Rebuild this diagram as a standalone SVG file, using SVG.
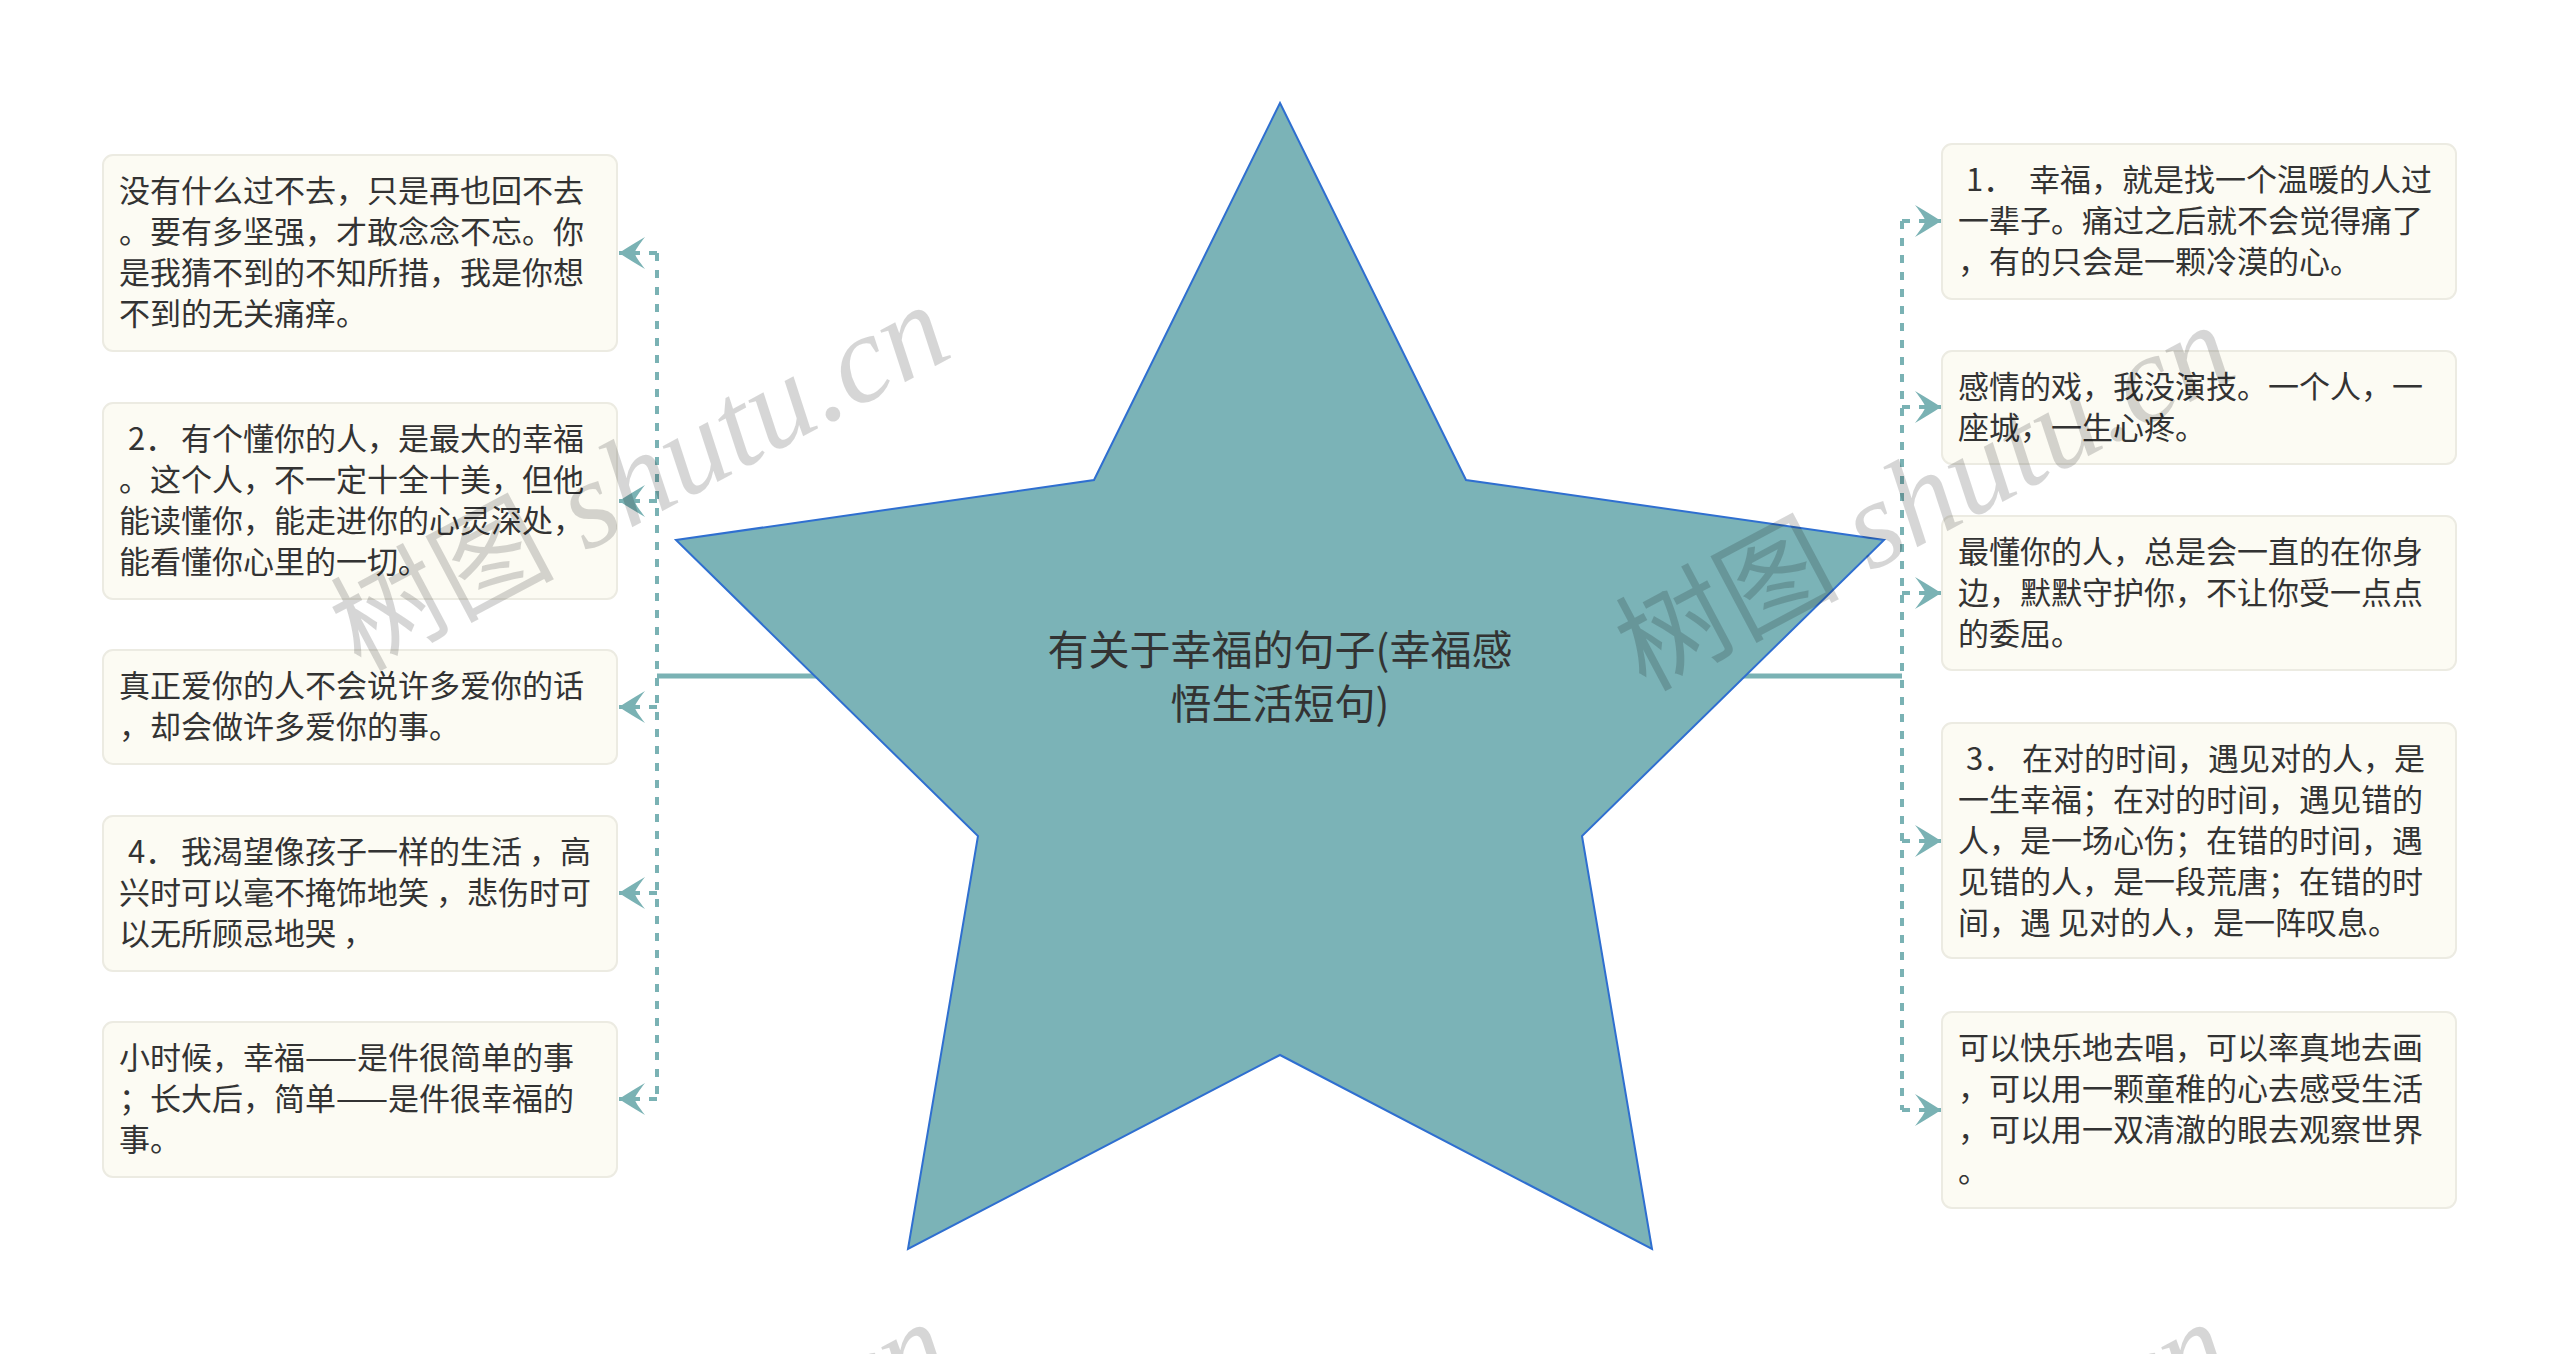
<svg xmlns="http://www.w3.org/2000/svg" width="2560" height="1354" viewBox="0 0 2560 1354">
<defs>
<style>
.box{fill:#fcfbf3;stroke:#ecebe2;stroke-width:2}
.t{font-family:"Noto Sans CJK SC","Noto Sans",sans-serif;font-size:31px;fill:#333333}
.title{font-family:"Noto Sans CJK SC","Noto Sans",sans-serif;font-size:41px;fill:#333333;text-anchor:middle}
.main{stroke:#7ab2b4;stroke-width:5;fill:none}
.dash{stroke:#7ab2b4;stroke-width:4;stroke-dasharray:8 9;fill:none}
.br{stroke:#7ab2b4;stroke-width:4;stroke-dasharray:8 9;fill:none;marker-end:url(#arr)}
.wm{font-family:"Liberation Serif",serif;font-style:italic;font-size:125px;fill:#000;fill-opacity:0.16}
.wmc{font-family:"Noto Sans CJK SC",sans-serif;font-style:normal;font-size:112px}
</style>
<marker id="arr" viewBox="-28 -17 30 34" markerWidth="30" markerHeight="34" refX="0" refY="0" orient="auto" markerUnits="userSpaceOnUse">
<path d="M0,0 C-8,-5 -17,-11 -26,-16 C-20,-8 -16,-3 -16,0 C-16,3 -20,8 -26,16 C-17,11 -8,5 0,0 Z" fill="#7ab2b4"/>
</marker>
</defs>
<rect width="2560" height="1354" fill="#ffffff"/>
<g id="connectors">
<line class="main" x1="657" y1="676" x2="1280" y2="676"/>
<line class="main" x1="1902" y1="676" x2="1280" y2="676"/>
<line class="dash" x1="657" y1="253" x2="657" y2="1099"/>
<line class="dash" x1="1902" y1="221" x2="1902" y2="1110"/>
<line class="br" x1="657" y1="253" x2="619" y2="253"/>
<line class="br" x1="657" y1="501" x2="619" y2="501"/>
<line class="br" x1="657" y1="707" x2="619" y2="707"/>
<line class="br" x1="657" y1="893" x2="619" y2="893"/>
<line class="br" x1="657" y1="1099" x2="619" y2="1099"/>
<line class="br" x1="1902" y1="221" x2="1941" y2="221"/>
<line class="br" x1="1902" y1="407" x2="1941" y2="407"/>
<line class="br" x1="1902" y1="593" x2="1941" y2="593"/>
<line class="br" x1="1902" y1="841" x2="1941" y2="841"/>
<line class="br" x1="1902" y1="1110" x2="1941" y2="1110"/>
</g>
<g id="center">
<polygon points="1280,103 1466,480 1884,540 1582,836 1652,1249 1280,1055 908,1249 978,836 676,540 1094,480" fill="#7bb3b7" stroke="#2f6fd0" stroke-width="2" stroke-linejoin="miter"/>
<text class="title"><tspan x="1280" y="665">有关于幸福的句子(幸福感</tspan><tspan x="1280" y="719">悟生活短句)</tspan></text>
</g>
<g id="left1">
<rect class="box" x="103" y="155" width="514" height="196" rx="10"/>
<text class="t" x="119" y="202">没有什么过不去，只是再也回不去</text>
<text class="t" x="119" y="243">。要有多坚强，才敢念念不忘。你</text>
<text class="t" x="119" y="284">是我猜不到的不知所措，我是你想</text>
<text class="t" x="119" y="325">不到的无关痛痒。</text>
</g>
<g id="left2">
<rect class="box" x="103" y="403" width="514" height="196" rx="10"/>
<text class="t" y="450"><tspan x="128">2．</tspan><tspan x="181">有个懂你的人，是最大的幸福</tspan></text>
<text class="t" x="119" y="491">。这个人，不一定十全十美，但他</text>
<text class="t" x="119" y="532">能读懂你，能走进你的心灵深处，</text>
<text class="t" x="119" y="573">能看懂你心里的一切。</text>
</g>
<g id="left3">
<rect class="box" x="103" y="650" width="514" height="114" rx="10"/>
<text class="t" x="119" y="697">真正爱你的人不会说许多爱你的话</text>
<text class="t" x="119" y="738">，却会做许多爱你的事。</text>
</g>
<g id="left4">
<rect class="box" x="103" y="816" width="514" height="155" rx="10"/>
<text class="t" y="863"><tspan x="128">4．</tspan><tspan x="181">我渴望像孩子一样的生活 ，高</tspan></text>
<text class="t" x="119" y="904">兴时可以毫不掩饰地笑 ，悲伤时可</text>
<text class="t" x="119" y="945">以无所顾忌地哭 ，</text>
</g>
<g id="left5">
<rect class="box" x="103" y="1022" width="514" height="155" rx="10"/>
<text class="t" x="119" y="1069">小时候，幸福——是件很简单的事</text>
<text class="t" x="119" y="1110">；长大后，简单——是件很幸福的</text>
<text class="t" x="119" y="1151">事。</text>
</g>
<g id="right1">
<rect class="box" x="1942" y="144" width="514" height="155" rx="10"/>
<text class="t" y="191"><tspan x="1966">1．</tspan><tspan x="2029">幸福，就是找一个温暖的人过</tspan></text>
<text class="t" x="1958" y="232">一辈子。痛过之后就不会觉得痛了</text>
<text class="t" x="1958" y="273">，有的只会是一颗冷漠的心。</text>
</g>
<g id="right2">
<rect class="box" x="1942" y="351" width="514" height="113" rx="10"/>
<text class="t" x="1958" y="398">感情的戏，我没演技。一个人，一</text>
<text class="t" x="1958" y="439">座城，一生心疼。</text>
</g>
<g id="right3">
<rect class="box" x="1942" y="516" width="514" height="154" rx="10"/>
<text class="t" x="1958" y="563">最懂你的人，总是会一直的在你身</text>
<text class="t" x="1958" y="604">边，默默守护你，不让你受一点点</text>
<text class="t" x="1958" y="645">的委屈。</text>
</g>
<g id="right4">
<rect class="box" x="1942" y="723" width="514" height="235" rx="10"/>
<text class="t" y="770"><tspan x="1966">3．</tspan><tspan x="2022">在对的时间，遇见对的人，是</tspan></text>
<text class="t" x="1958" y="811">一生幸福；在对的时间，遇见错的</text>
<text class="t" x="1958" y="852">人，是一场心伤；在错的时间，遇</text>
<text class="t" x="1958" y="893">见错的人，是一段荒唐；在错的时</text>
<text class="t" x="1958" y="934">间，遇 见对的人，是一阵叹息。</text>
</g>
<g id="right5">
<rect class="box" x="1942" y="1012" width="514" height="196" rx="10"/>
<text class="t" x="1958" y="1059">可以快乐地去唱，可以率真地去画</text>
<text class="t" x="1958" y="1100">，可以用一颗童稚的心去感受生活</text>
<text class="t" x="1958" y="1141">，可以用一双清澈的眼去观察世界</text>
<text class="t" x="1958" y="1182">。</text>
</g>
<g id="watermarks">
<text class="wm" transform="translate(360,672) rotate(-28)"><tspan class="wmc">树图</tspan> shutu.cn</text>
<text class="wm" transform="translate(1645,692) rotate(-28)"><tspan class="wmc">树图</tspan> shutu.cn</text>
<text class="wm" transform="translate(361,1689) rotate(-28)"><tspan class="wmc">树图</tspan> shutu.cn</text>
<text class="wm" transform="translate(1641,1689) rotate(-28)"><tspan class="wmc">树图</tspan> shutu.cn</text>
</g>
</svg>
